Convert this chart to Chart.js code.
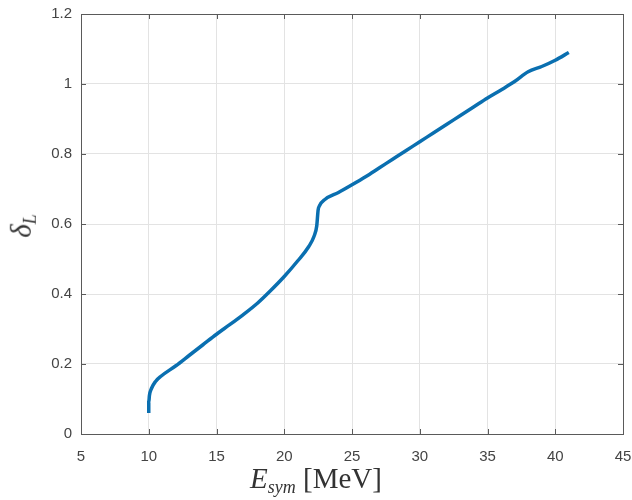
<!DOCTYPE html>
<html>
<head>
<meta charset="utf-8">
<script src="https://cdn.jsdelivr.net/npm/chart.js@4"></script>
<style>
  html, body { margin:0; padding:0; background:#fff; }
  #wrap { position:relative; width:632px; height:500px; }
  .ttl { position:absolute; font-family:"Liberation Serif","DejaVu Serif",serif; color:#333; white-space:nowrap; }
  #xt { left:0; width:632px; top:462px; text-align:center; font-size:29px; }
  #yt { left:23px; top:226px; font-size:29px; transform:translate(-50%,-50%) rotate(-90deg); }
  .ttl sub { font-size:0.62em; vertical-align:-0.3em; }
</style>
</head>
<body>
<div id="wrap">
  <canvas id="c" width="632" height="500"></canvas>
  <div class="ttl" id="xt"><i>E</i><sub><i>sym</i></sub> [MeV]</div>
  <div class="ttl" id="yt"><i>δ</i><sub><i>L</i></sub></div>
</div>
<script>
// curve
const esym = [10.0, 10.0, 10.05, 10.2, 10.5, 10.9, 12, 13, 14, 15, 16, 17, 18, 19, 20, 21, 21.8, 22.2, 22.4, 22.5, 22.6, 23, 24, 25, 26, 27, 28, 29, 30, 31, 32, 33, 34, 35, 36, 37, 38, 39, 40, 41];
const deltaL = [0.06, 0.09, 0.11, 0.13, 0.15, 0.165, 0.195, 0.225, 0.255, 0.285, 0.313, 0.342, 0.373, 0.41, 0.45, 0.495, 0.535, 0.565, 0.595, 0.64, 0.652, 0.67, 0.69, 0.712, 0.735, 0.76, 0.785, 0.81, 0.835, 0.86, 0.885, 0.91, 0.935, 0.96, 0.983, 1.007, 1.035, 1.05, 1.068, 1.09];

// tick values
const xTicks = [5, 10, 15, 20, 25, 30, 35, 40, 45];
const yTicks = [0, 0.2, 0.4, 0.6, 0.8, 1, 1.2];

const AXIS = '#5a5a5a';
const GRID = '#e3e3e3';
const TXT = '#444';

// box round the plot + ticks pointing inward (matlab style)
const boxTicks = {
  id: 'boxTicks',
  afterDraw(chart) {
    const { ctx, chartArea: a, scales } = chart;
    ctx.save();
    ctx.strokeStyle = AXIS;
    ctx.lineWidth = 1;
    ctx.beginPath();
    scales.x.ticks.forEach(t => {
      const px = Math.round(scales.x.getPixelForValue(t.value)) + 0.5;
      ctx.moveTo(px, a.bottom); ctx.lineTo(px, a.bottom - 5);
      ctx.moveTo(px, a.top); ctx.lineTo(px, a.top + 5);
    });
    scales.y.ticks.forEach(t => {
      const py = Math.round(scales.y.getPixelForValue(t.value)) + 0.5;
      ctx.moveTo(a.left, py); ctx.lineTo(a.left + 5, py);
      ctx.moveTo(a.right, py); ctx.lineTo(a.right - 5, py);
    });
    ctx.stroke();
    ctx.strokeRect(Math.round(a.left) + 0.5, Math.round(a.top) + 0.5,
                   Math.round(a.right - a.left), Math.round(a.bottom - a.top));
    ctx.restore();
  }
};

new Chart(document.getElementById('c'), {
  type: 'scatter',
  data: {
    datasets: [{
      data: esym.map((x, i) => ({ x, y: deltaL[i] })),
      showLine: true,
      borderColor: '#0a6fb0',
      borderWidth: 3.5,
      pointRadius: 0,
      cubicInterpolationMode: 'monotone',
      fill: false
    }]
  },
  options: {
    responsive: false,
    animation: false,
    layout: { padding: { left: 0, right: 9, top: 14, bottom: 0 } },
    plugins: { legend: { display: false }, tooltip: { enabled: false } },
    scales: {
      x: {
        type: 'linear', min: 5, max: 45,
        afterBuildTicks: s => { s.ticks = xTicks.map(v => ({ value: v })); },
        afterFit: s => { s.height = 66; s.paddingLeft = 0; s.paddingRight = 0; },
        grid: { color: GRID, drawTicks: false },
        border: { display: false },
        ticks: { color: TXT, padding: 14, font: { family: 'Liberation Sans', size: 15 },
                 callback: v => String(v) }
      },
      y: {
        type: 'linear', min: 0, max: 1.2,
        afterBuildTicks: s => { s.ticks = yTicks.map(v => ({ value: v })); },
        afterFit: s => { s.width = 81; s.paddingTop = 0; s.paddingBottom = 0; },
        grid: { color: GRID, drawTicks: false },
        border: { display: false },
        ticks: { color: TXT, padding: 9, font: { family: 'Liberation Sans', size: 15 },
                 callback: v => String(v) }
      }
    }
  },
  plugins: [boxTicks]
});
</script>
</body>
</html>
